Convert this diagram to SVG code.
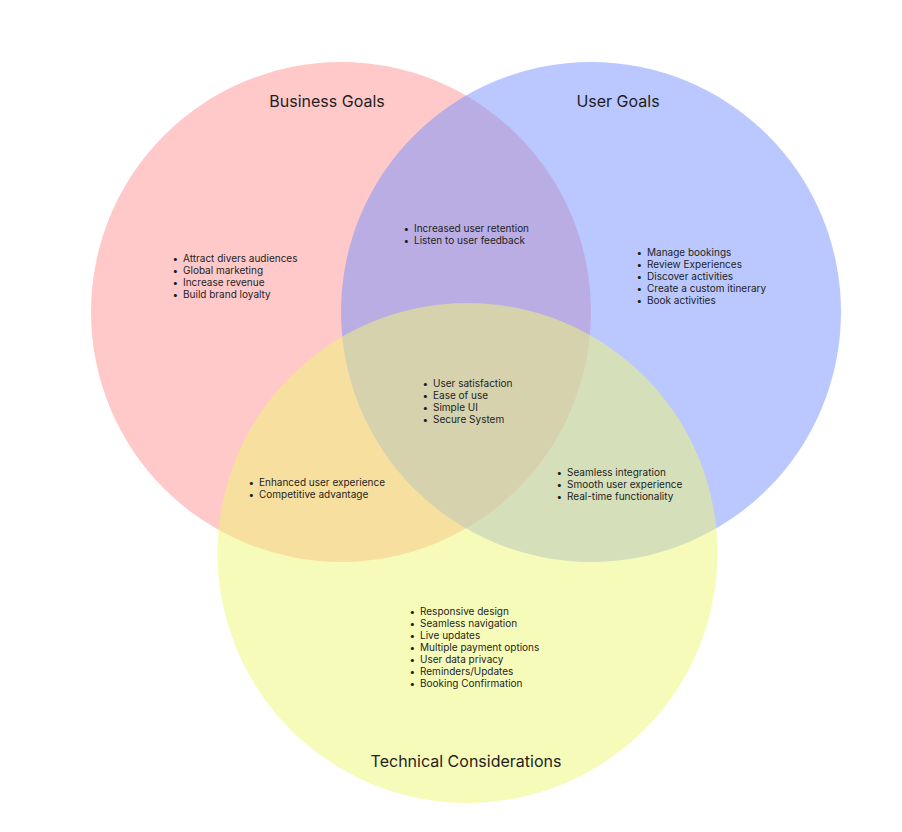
<svg xmlns="http://www.w3.org/2000/svg" width="902" height="832" viewBox="0 0 902 832">
<style>
.t{font-family:Inter,"Noto Sans","Liberation Sans",sans-serif;fill:#1e1e1e}
.h{font-size:16px;text-anchor:middle}
.l{font-size:10px}
.b{font-size:10px}
</style>
<rect width="902" height="832" fill="#ffffff"/>
<g id="business">
<circle cx="341" cy="312" r="250" fill="#ff9393" fill-opacity="0.5"/>
</g>
<g id="user">
<circle cx="591" cy="312" r="250" fill="#7591ff" fill-opacity="0.5"/>
</g>
<g id="technical">
<circle cx="467.5" cy="553" r="250" fill="#eff775" fill-opacity="0.5"/>
</g>
<g id="connectors"></g>
<g id="labels" class="t">
<text class="t h" x="327" y="107">Business Goals</text>
<text class="t h" x="618" y="107">User Goals</text>
<text class="t h" x="466" y="767">Technical Considerations</text>
</g>
<g id="business-list" class="t l">
<text x="172.5" y="261.5">•</text><text x="183" y="261.5">Attract divers audiences</text>
<text x="172.5" y="273.5">•</text><text x="183" y="273.5">Global marketing</text>
<text x="172.5" y="285.5">•</text><text x="183" y="285.5">Increase revenue</text>
<text x="172.5" y="297.5">•</text><text x="183" y="297.5">Build brand loyalty</text>
</g>
<g id="business-user-list" class="t l">
<text x="403.5" y="231.5">•</text><text x="414" y="231.5">Increased user retention</text>
<text x="403.5" y="243.5">•</text><text x="414" y="243.5">Listen to user feedback</text>
</g>
<g id="user-list" class="t l">
<text x="636.5" y="255.5">•</text><text x="647" y="255.5">Manage bookings</text>
<text x="636.5" y="267.5">•</text><text x="647" y="267.5">Review Experiences</text>
<text x="636.5" y="279.5">•</text><text x="647" y="279.5">Discover activities</text>
<text x="636.5" y="291.5">•</text><text x="647" y="291.5">Create a custom itinerary</text>
<text x="636.5" y="303.5">•</text><text x="647" y="303.5">Book activities</text>
</g>
<g id="center-list" class="t l">
<text x="422.5" y="386.5">•</text><text x="433" y="386.5">User satisfaction</text>
<text x="422.5" y="398.5">•</text><text x="433" y="398.5">Ease of use</text>
<text x="422.5" y="410.5">•</text><text x="433" y="410.5">Simple UI</text>
<text x="422.5" y="422.5">•</text><text x="433" y="422.5">Secure System</text>
</g>
<g id="business-tech-list" class="t l">
<text x="248.5" y="485.5">•</text><text x="259" y="485.5">Enhanced user experience</text>
<text x="248.5" y="497.5">•</text><text x="259" y="497.5">Competitive advantage</text>
</g>
<g id="user-tech-list" class="t l">
<text x="556.5" y="475.5">•</text><text x="567" y="475.5">Seamless integration</text>
<text x="556.5" y="487.5">•</text><text x="567" y="487.5">Smooth user experience</text>
<text x="556.5" y="499.5">•</text><text x="567" y="499.5">Real-time functionality</text>
</g>
<g id="tech-list" class="t l">
<text x="409.5" y="614.5">•</text><text x="420" y="614.5">Responsive design</text>
<text x="409.5" y="626.5">•</text><text x="420" y="626.5">Seamless navigation</text>
<text x="409.5" y="638.5">•</text><text x="420" y="638.5">Live updates</text>
<text x="409.5" y="650.5">•</text><text x="420" y="650.5">Multiple payment options</text>
<text x="409.5" y="662.5">•</text><text x="420" y="662.5">User data privacy</text>
<text x="409.5" y="674.5">•</text><text x="420" y="674.5">Reminders/Updates</text>
<text x="409.5" y="686.5">•</text><text x="420" y="686.5">Booking Confirmation</text>
</g>
</svg>
